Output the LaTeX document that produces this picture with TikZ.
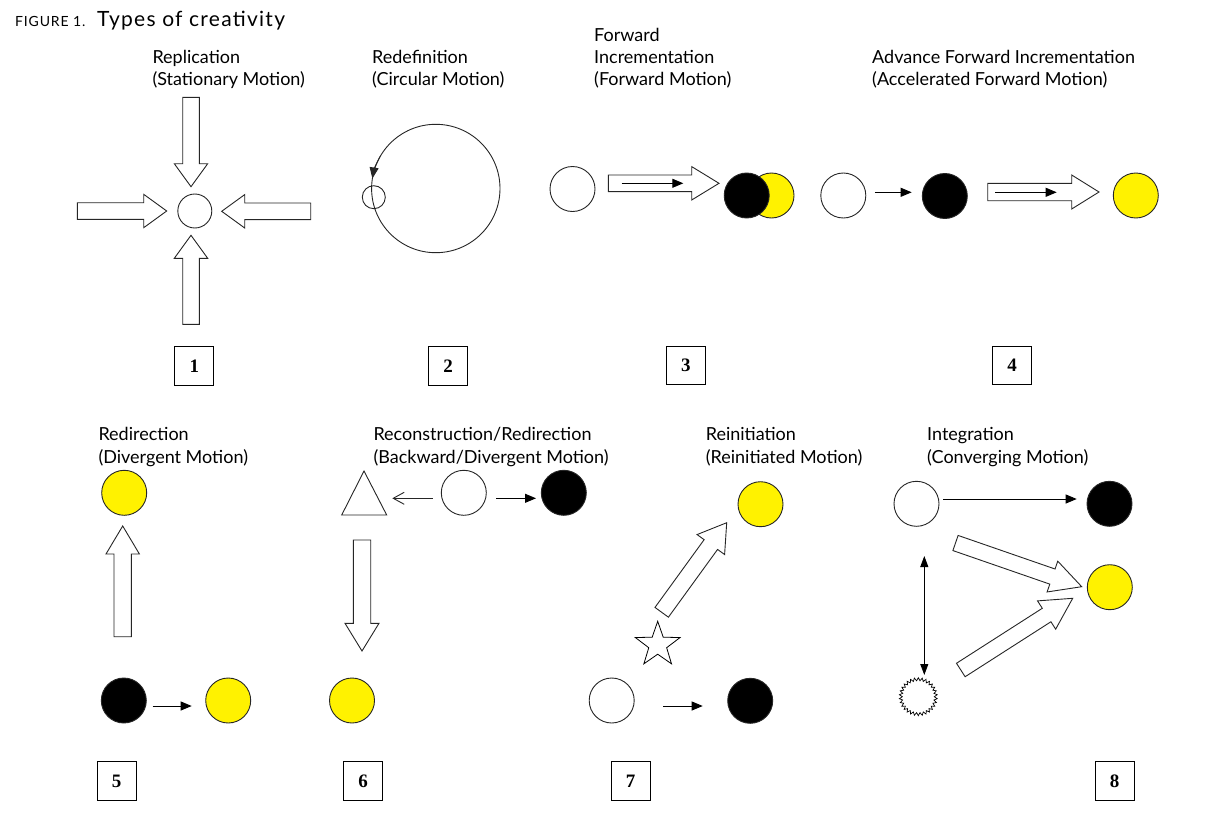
\documentclass[tikz,border=0pt]{standalone}
\usepackage{fontspec}
\setmainfont{Lato}
\newfontfamily\numfont{Liberation Serif}
\usetikzlibrary{calc,arrows.meta,shapes.geometric}

\tikzset{
  ln/.style={line width=0.9pt, draw=black!85},
  circ/.style={circle, ln, minimum size=45pt, inner sep=0pt, outer sep=0pt},
  wc/.style={circ, fill=white},
  bc/.style={circ, fill=black},
  yc/.style={circ, fill=yellow},
  barrow/.style={ln, fill=white, line join=miter},
  sarr/.style={line width=0.9pt, -{Triangle[length=11pt,width=9pt]}},
  lab/.style={anchor=base west, inner sep=0pt, font=\fontsize{18}{22}\selectfont},
  numbox/.style={draw, line width=1pt, minimum width=39pt, minimum height=38.5pt, inner sep=0pt,
    font=\numfont\bfseries\fontsize{19}{19}\selectfont},
  starshape/.style={star, star points=5, star point ratio=2.5, draw, line width=0.8pt, fill=white,
    minimum size=47pt, inner sep=0pt},
  zigshape/.style={star, star points=30, star point height=3pt, draw, line width=0.7pt, fill=white,
    minimum size=38pt, inner sep=0pt, outer sep=0pt},
}

% block arrow: #1 tail, #2 tip, #3 body half width, #4 head half width, #5 head length
\newcommand\blockarrow[5]{%
  \coordinate (baP) at ($(#2)!#5pt!(#1)$);
  \draw[barrow] ($(#1)!#3pt!90:(#2)$) -- ($(baP)!#3pt!-90:(#1)$) -- ($(baP)!#4pt!-90:(#1)$)
    -- (#2) -- ($(baP)!#4pt!90:(#1)$) -- ($(baP)!#3pt!90:(#1)$) -- ($(#1)!#3pt!-90:(#2)$) -- cycle;}

\begin{document}
\begin{tikzpicture}[x=1pt,y=-1pt]
\useasboundingbox (0,0) rectangle (1205,827);

% ---------- title ----------
\node[anchor=base west, inner sep=0pt, font=\fontsize{14}{14}\selectfont\addfontfeatures{LetterSpace=6}] (figno) at (15,26.7) {FIGURE 1.};
\node[anchor=base west, inner sep=0pt, font=\fontsize{21}{21}\selectfont\addfontfeatures{LetterSpace=6}] (title) at (97,26.7) {Types of creativity};

% ---------- labels ----------
\node[lab] (l1a) at (152.3,63.3) {Replication};
\node[lab] (l1b) at (152.3,85) {(Stationary Motion)};
\node[lab] (l2a) at (372,63.3) {Redefinition};
\node[lab] (l2b) at (372,85) {(Circular Motion)};
\node[lab] (l3a) at (594,41.5) {Forward};
\node[lab] (l3b) at (594,63.3) {Incrementation};
\node[lab] (l3c) at (594,85) {(Forward Motion)};
\node[lab] (l4a) at (872,63.3) {Advance Forward Incrementation};
\node[lab] (l4b) at (872,85) {(Accelerated Forward Motion)};
\node[lab] (l5a) at (98.3,440.7) {Redirection};
\node[lab] (l5b) at (98.3,463.5) {(Divergent Motion)};
\node[lab] (l6a) at (373.3,440.7) {Reconstruction/Redirection};
\node[lab] (l6b) at (373.3,463.5) {(Backward/Divergent Motion)};
\node[lab] (l7a) at (705.6,440.7) {Reinitiation};
\node[lab] (l7b) at (705.6,463.5) {(Reinitiated Motion)};
\node[lab] (l8a) at (927,440.7) {Integration};
\node[lab] (l8b) at (927,463.5) {(Converging Motion)};

% ---------- number boxes ----------
\node[numbox] (n1) at (194.3,365.8) {1};
\node[numbox] (n2) at (448,365.8) {2};
\node[numbox] (n3) at (685.8,365.5) {3};
\node[numbox] (n4) at (1012.2,365.5) {4};
\node[numbox] (n5) at (116.5,781) {5};
\node[numbox] (n6) at (363,781) {6};
\node[numbox] (n7) at (630.5,781) {7};
\node[numbox] (n8) at (1114.5,781) {8};

% ---------- panel 1 ----------
\node[wc, minimum size=34pt] (p1c) at (194.8,211) {};
\coordinate (p1tT) at (191,97.3);   \coordinate (p1tH) at (191,186.7);
\coordinate (p1lT) at (77.3,211);   \coordinate (p1lH) at (166.7,211);
\coordinate (p1rT) at (310.7,211.3);\coordinate (p1rH) at (221.7,211.3);
\coordinate (p1bT) at (191,324.3);  \coordinate (p1bH) at (191,235.3);
\blockarrow{p1tT}{p1tH}{8.3}{16.7}{23}
\blockarrow{p1lT}{p1lH}{8.3}{16.7}{23}
\blockarrow{p1rT}{p1rH}{8.3}{16.7}{23}
\blockarrow{p1bT}{p1bH}{8.3}{16.7}{23}

% ---------- panel 2 ----------
\node[circ, minimum size=128.4pt] (p2c) at (435.8,188.5) {};
\node[circ, minimum size=23pt] (p2s) at (373.8,197.2) {};
\draw[ln, -{Triangle[length=11pt,width=9pt]}] (p2c.150) arc[start angle=-150, end angle=-171, radius=64.2];

% ---------- panel 3 ----------
\node[wc] (p3w) at (572.5,189) {};
\node[yc] (p3y) at (771.5,195.5) {};
\node[bc] (p3b) at (746.7,195.5) {};
\coordinate (p3T) at (608.3,183.3); \coordinate (p3H) at (719,183.3);
\blockarrow{p3T}{p3H}{8.3}{16.7}{27.3}
\coordinate (p3i1) at (621.7,183.3); \coordinate (p3i2) at (683.3,183.3);
\draw[sarr] (p3i1) -- (p3i2);

% ---------- panel 4 ----------
\node[wc] (p4w) at (843.3,195.5) {};
\node[bc] (p4b) at (944.8,196) {};
\node[yc] (p4y) at (1135.8,195.5) {};
\draw[sarr] ([shift={(9,-3.2)}]p4w.east) -- ([shift={(-10.6,-3.7)}]p4b.west);
\coordinate (p4T) at (987.7,192); \coordinate (p4H) at (1099,192);
\blockarrow{p4T}{p4H}{8.7}{17}{27.3}
\coordinate (p4i1) at (995,192.3); \coordinate (p4i2) at (1056.7,192.3);
\draw[sarr] (p4i1) -- (p4i2);

% ---------- panel 5 ----------
\node[yc] (p5y1) at (124.2,492.8) {};
\node[bc] (p5b) at (123.8,700.5) {};
\node[yc] (p5y2) at (228.2,700.5) {};
\coordinate (p5T) at (122.7,636.7); \coordinate (p5H) at (122.7,526);
\blockarrow{p5T}{p5H}{8.7}{16.7}{28}
\draw[sarr] ([shift={(6.4,5.5)}]p5b.east) -- ([shift={(-14,5.5)}]p5y2.west);

% ---------- panel 6 ----------
\draw[ln, fill=white, line join=miter] (364,471) -- (386.7,515) -- (341.7,515) -- cycle;
\coordinate (p6tip) at (392.3,498.3);
\node[wc] (p6w) at (463.8,492.8) {};
\node[bc] (p6b) at (563.8,492.8) {};
\node[yc] (p6y) at (352,700.5) {};
\draw[ln, -{Straight Barb[length=11pt,width=12pt]}] ([shift={(-8.7,5.5)}]p6w.west) -- (p6tip);
\draw[sarr] ([shift={(10.1,5.5)}]p6w.east) -- ([shift={(-5.3,5.5)}]p6b.west);
\coordinate (p6T) at (362,540); \coordinate (p6H) at (362,651);
\blockarrow{p6T}{p6H}{8.7}{17}{27.7}

% ---------- panel 7 ----------
\node[yc] (p7y) at (760.5,504.2) {};
\node[wc] (p7w) at (611.7,700.5) {};
\node[bc] (p7b) at (750.2,700.8) {};
\node[starshape] (p7s) at (657.7,644.8) {};
\coordinate (p7T) at (661.7,612.3); \coordinate (p7H) at (726.7,522.7);
\blockarrow{p7T}{p7H}{8.3}{17}{27}
\draw[sarr] ([shift={(29.1,5.5)}]p7w.east) -- ([shift={(-25,5.2)}]p7b.west);

% ---------- panel 8 ----------
\node[wc] (p8w) at (916.5,503.8) {};
\node[bc] (p8b) at (1109.5,503.8) {};
\node[yc] (p8y) at (1109.8,587.2) {};
\node[zigshape] (p8z) at (918.3,696.7) {};
\draw[sarr] ([shift={(4.3,-4.8)}]p8w.east) -- ([shift={(-10.3,-4.8)}]p8b.west);
\draw[line width=0.9pt, {Triangle[length=11pt,width=8pt]}-{Triangle[length=11pt,width=8pt]}]
  ([shift={(7.8,29.7)}]p8w.south) -- ([shift={(6,-2.7)}]p8z.north);
\coordinate (p8uT) at (955.5,543); \coordinate (p8uH) at (1081.7,586.7);
\blockarrow{p8uT}{p8uH}{8}{16.3}{31}
\coordinate (p8lT) at (960.8,670); \coordinate (p8lH) at (1072.7,598.3);
\blockarrow{p8lT}{p8lH}{8}{16.8}{31}

\end{tikzpicture}
\end{document}
